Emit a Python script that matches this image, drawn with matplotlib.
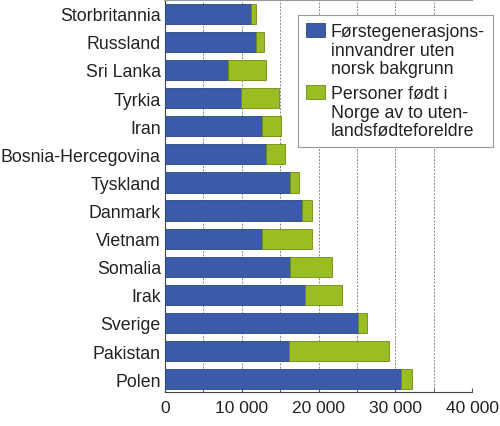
import numpy as np
import matplotlib
matplotlib.use("Agg")
import matplotlib.pyplot as plt
from matplotlib.ticker import MultipleLocator, FuncFormatter
from matplotlib.legend_handler import HandlerPatch, update_from_first_child
from matplotlib.patches import Rectangle
from matplotlib.container import BarContainer

plt.rcParams['font.family'] = ['Liberation Sans', 'DejaVu Sans']

# data
countries = ["Storbritannia", "Russland", "Sri Lanka", "Tyrkia", "Iran",
             "Bosnia-Hercegovina", "Tyskland", "Danmark", "Vietnam",
             "Somalia", "Irak", "Sverige", "Pakistan", "Polen"]
first_gen = [11150, 11900, 8250, 9900, 12700, 13200, 16300,
             17850, 12600, 16300, 18200, 25100, 16200, 30700]
born_norway = [650, 950, 4900, 5000, 2350, 2400, 1200,
               1350, 6600, 5500, 4800, 1200, 13000, 1500]

label_first = "Førstegenerasjons-\ninnvandrer uten\nnorsk bakgrunn"
label_born = "Personer født i\nNorge av to uten-\nlandsfødteforeldre"

blue = "#3a5ca8"
green = "#9abd24"
fs = 12.8


# legend square sits next to the first line of the label, not the last one
def top_square(legend, orig_handle, xdescent, ydescent, width, height, fontsize):
    shift = fontsize * 1.15
    return Rectangle((-xdescent, -ydescent + shift), width, height)


fig = plt.figure(figsize=(5.0, 4.27), dpi=100)
ax = fig.add_axes([0.33, 0.08, 0.614, 0.917])

y = np.arange(len(countries))
ax.barh(y, first_gen, height=0.72, color=blue, edgecolor="#2c4683",
        linewidth=0.6, label=label_first, zorder=3)
ax.barh(y, born_norway, left=first_gen, height=0.72, color=green,
        edgecolor="#6e8a14", linewidth=0.6, label=label_born, zorder=3)

ax.set_xlim(0, 40000)
ax.set_ylim(13.45, -0.48)
ax.set_yticks(y)
ax.set_yticklabels(countries, fontsize=fs, color="#222222")
ax.tick_params(axis="y", length=0, pad=3)

ax.xaxis.set_major_locator(MultipleLocator(10000))
ax.xaxis.set_minor_locator(MultipleLocator(5000))
ax.xaxis.set_major_formatter(FuncFormatter(lambda v, p: f"{int(v):,}".replace(",", " ")))
ax.tick_params(axis="x", which="both", direction="in", length=3, labelsize=12.5,
               labelcolor="#222222", color="#555555", pad=6)
ax.grid(axis="x", which="both", color="#888888", linestyle=(0, (2, 1.5)),
        linewidth=0.7, zorder=0)

ax.spines["right"].set_visible(False)
ax.spines["top"].set_color("#999999")
ax.spines["top"].set_linewidth(1.5)
ax.spines["left"].set_color("#444444")
ax.spines["bottom"].set_color("#444444")

handler = HandlerPatch(patch_func=top_square, update_func=update_from_first_child)
leg = ax.legend(loc="upper left", bbox_to_anchor=(0.433, 0.962), fontsize=fs,
                frameon=True, fancybox=False, edgecolor="#999999",
                framealpha=1, handlelength=1.1, handleheight=0.8,
                handletextpad=0.3, labelspacing=0.45, borderpad=0.45,
                borderaxespad=0, handler_map={BarContainer: handler})
leg.get_frame().set_linewidth(0.8)
for t in leg.get_texts():
    t.set_linespacing(1.12)
    t.set_color("#222222")

fig.savefig("out.png", dpi=100)
